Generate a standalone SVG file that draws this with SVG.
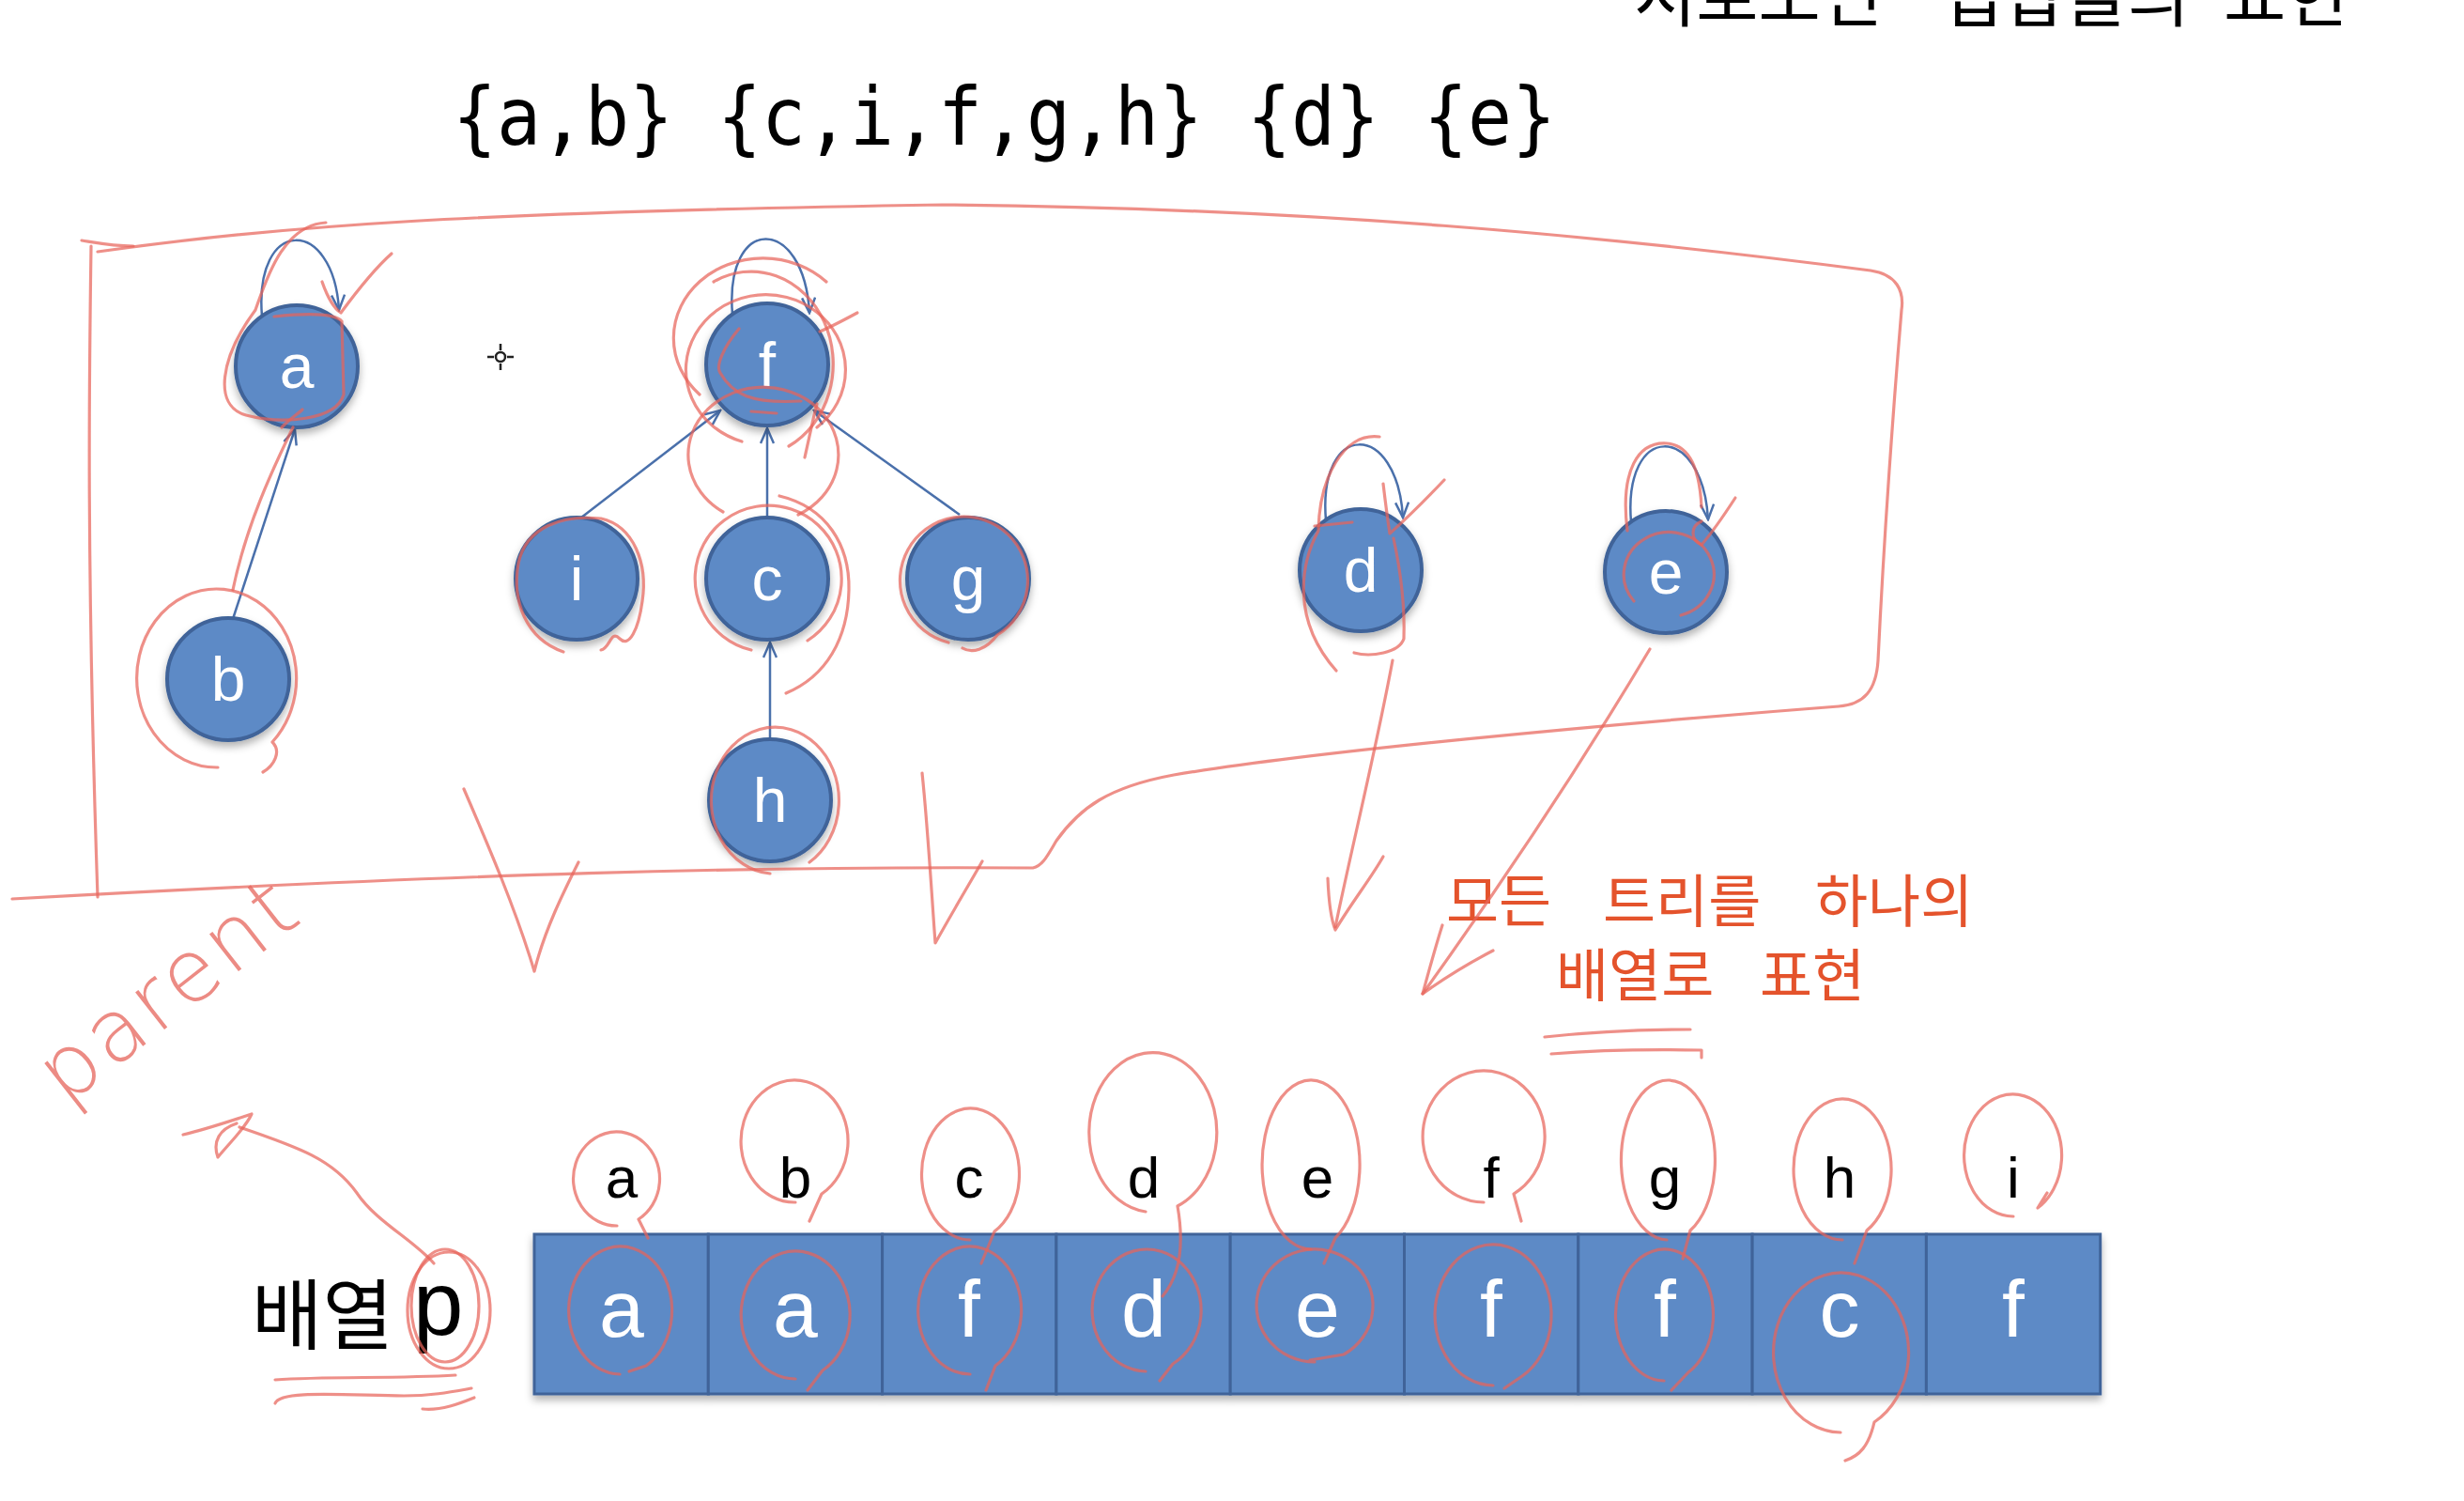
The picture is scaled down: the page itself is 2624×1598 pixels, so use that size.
<svg xmlns="http://www.w3.org/2000/svg" width="2624" height="1598" viewBox="0 0 2624 1598">
<style>
.node{fill:#5d8ac6;stroke:#3f6499;stroke-width:4}
.nl{font-family:"Liberation Sans",Arial,sans-serif;font-size:66px;fill:#ffffff;text-anchor:middle}
.cell{fill:#5d8ac6;stroke:#3f6499;stroke-width:3}
.cl{font-family:"Liberation Sans",Arial,sans-serif;font-size:86px;fill:#ffffff;text-anchor:middle}
.il{font-family:"Liberation Sans",Arial,sans-serif;font-size:62px;fill:#000000;text-anchor:middle}
.edge{fill:none;stroke:#4a70ab;stroke-width:2.5}
.ink{fill:none;stroke:#e8645a;stroke-opacity:0.72;stroke-width:3.2;stroke-linecap:round;stroke-linejoin:round}
.kr{font-family:"Noto Sans CJK KR","Noto Sans",sans-serif}
.red{fill:#e4532c;font-size:61px}
</style>
<defs>
<marker id="arr" viewBox="0 0 20 16" markerWidth="20" markerHeight="16" refX="18" refY="8" orient="auto" markerUnits="userSpaceOnUse">
<path d="M2,1 L18,8 L2,15" fill="none" stroke="#4a70ab" stroke-width="2.5"/>
</marker>
<filter id="sh" x="-20%" y="-20%" width="140%" height="150%">
<feDropShadow dx="0" dy="5" stdDeviation="4" flood-color="#000" flood-opacity="0.3"/>
</filter>
</defs>
<rect width="2624" height="1598" fill="#ffffff"/>

<!-- titles (cut at top edge as in the source) -->
<g id="title">
<text class="kr" x="1740" y="22" font-size="72" fill="#000">서로소인</text>
<text class="kr" x="2067" y="22" font-size="72" fill="#000">집합들의</text>
<text class="kr" x="2368" y="22" font-size="72" fill="#000">표현</text>
</g>
<text id="sets" x="482" y="154" font-family="DejaVu Sans Mono,Liberation Mono,monospace" font-size="86" fill="#000" textLength="1175" lengthAdjust="spacingAndGlyphs">{a,b} {c,i,f,g,h} {d} {e}</text>

<!-- connectors -->
<g id="connectors">
<path class="edge" d="M248,659 L314,457" marker-end="url(#arr)"/>
<path class="edge" d="M619,551 L767,437" marker-end="url(#arr)"/>
<path class="edge" d="M817,551 L817,456" marker-end="url(#arr)"/>
<path class="edge" d="M1022,548 L867,437" marker-end="url(#arr)"/>
<path class="edge" d="M820,787 L820,684" marker-end="url(#arr)"/>
<path class="edge" d="M279,337 C270,230 355,230 361,330" marker-end="url(#arr)"/>
<path class="edge" d="M780,335 C771,228 856,228 862,333" marker-end="url(#arr)"/>
<path class="edge" d="M1412,554 C1403,447 1488,447 1494,551" marker-end="url(#arr)"/>
<path class="edge" d="M1737,556 C1728,449 1813,449 1819,553" marker-end="url(#arr)"/>
</g>

<!-- tree nodes -->
<g id="node-a" filter="url(#sh)"><circle class="node" cx="316" cy="390" r="65"/><text class="nl" x="316" y="413">a</text></g>
<g id="node-b" filter="url(#sh)"><circle class="node" cx="243" cy="723" r="65"/><text class="nl" x="243" y="746">b</text></g>
<g id="node-f" filter="url(#sh)"><circle class="node" cx="817" cy="388" r="65"/><text class="nl" x="817" y="411">f</text></g>
<g id="node-i" filter="url(#sh)"><circle class="node" cx="614" cy="616" r="65"/><text class="nl" x="614" y="639">i</text></g>
<g id="node-c" filter="url(#sh)"><circle class="node" cx="817" cy="616" r="65"/><text class="nl" x="817" y="639">c</text></g>
<g id="node-g" filter="url(#sh)"><circle class="node" cx="1031" cy="616" r="65"/><text class="nl" x="1031" y="639">g</text></g>
<g id="node-h" filter="url(#sh)"><circle class="node" cx="820" cy="852" r="65"/><text class="nl" x="820" y="875">h</text></g>
<g id="node-d" filter="url(#sh)"><circle class="node" cx="1449" cy="607" r="65"/><text class="nl" x="1449" y="630">d</text></g>
<g id="node-e" filter="url(#sh)"><circle class="node" cx="1774" cy="609" r="65"/><text class="nl" x="1774" y="632">e</text></g>

<!-- cursor mark -->
<g id="cursor" stroke="#222" stroke-width="2.5">
<circle cx="533" cy="380" r="5" fill="#fff"/>
<path d="M533,366 L533,373 M533,387 L533,394 M519,380 L526,380 M540,380 L547,380"/>
</g>

<!-- array p -->
<g id="array" filter="url(#sh)">
<rect class="cell" x="569" y="1314" width="185.3" height="170"/>
<rect class="cell" x="754.3" y="1314" width="185.3" height="170"/>
<rect class="cell" x="939.6" y="1314" width="185.3" height="170"/>
<rect class="cell" x="1124.9" y="1314" width="185.3" height="170"/>
<rect class="cell" x="1310.2" y="1314" width="185.3" height="170"/>
<rect class="cell" x="1495.5" y="1314" width="185.3" height="170"/>
<rect class="cell" x="1680.8" y="1314" width="185.3" height="170"/>
<rect class="cell" x="1866.1" y="1314" width="185.3" height="170"/>
<rect class="cell" x="2051.4" y="1314" width="185.3" height="170"/>
</g>
<g id="array-values">
<text class="cl" x="662" y="1423">a</text>
<text class="cl" x="847" y="1423">a</text>
<text class="cl" x="1032" y="1423">f</text>
<text class="cl" x="1218" y="1423">d</text>
<text class="cl" x="1403" y="1423">e</text>
<text class="cl" x="1588" y="1423">f</text>
<text class="cl" x="1773" y="1423">f</text>
<text class="cl" x="1959" y="1423">c</text>
<text class="cl" x="2144" y="1423">f</text>
</g>
<g id="array-index">
<text class="il" x="662" y="1275">a</text>
<text class="il" x="847" y="1275">b</text>
<text class="il" x="1032" y="1275">c</text>
<text class="il" x="1218" y="1275">d</text>
<text class="il" x="1403" y="1275">e</text>
<text class="il" x="1588" y="1275">f</text>
<text class="il" x="1773" y="1275">g</text>
<text class="il" x="1959" y="1275">h</text>
<text class="il" x="2144" y="1275">i</text>
</g>
<g id="array-label">
<text class="kr" x="268" y="1430" font-size="82" fill="#000">배열</text>
<text x="440" y="1421" font-family="Liberation Sans,Arial,sans-serif" font-size="96" fill="#000">p</text>
</g>

<!-- red note -->
<g id="note">
<text class="kr red" x="1540" y="982">모든</text>
<text class="kr red" x="1707" y="982">트리를</text>
<text class="kr red" x="1933" y="982">하나의</text>
<text class="kr red" x="1657" y="1061">배열로</text>
<text class="kr red" x="1874" y="1061">표현</text>
</g>

<!-- handwriting -->
<text id="parent" transform="translate(70,1178) rotate(-38)" font-family="DejaVu Sans,sans-serif" font-weight="200" font-size="92" letter-spacing="4" fill="#ec8b84">parent</text>

<g id="annotations" class="ink">
<!-- enclosure -->
<path d="M87,256 C100,258 120,262 142,262"/>
<path d="M104,268 C300,240 500,226 1004,218 C1400,222 1700,250 1992,288 C2020,292 2028,310 2025,330 C2015,450 2005,600 2000,703 C1998,735 1985,750 1958,752 C1700,772 1400,800 1250,825 C1180,838 1150,860 1125,895 C1115,912 1110,922 1100,924 C800,922 500,930 13,957"/>
<path d="M97,262 C95,400 92,600 104,955"/>
<!-- down arrows -->
<path d="M494,840 C520,900 550,970 569,1034 C580,990 600,950 616,918"/>
<path d="M982,823 C988,880 992,950 996,1004 C1012,975 1030,945 1046,917"/>
<path d="M1483,703 C1465,800 1440,900 1422,987"/>
<path d="M1414,935 C1415,960 1418,980 1422,990 C1440,960 1460,935 1473,912"/>
<path d="M1757,691 C1680,820 1600,940 1515,1058"/>
<path d="M1536,985 C1528,1010 1520,1040 1515,1058 C1540,1040 1565,1025 1590,1012"/>
<!-- parent arrow -->
<path d="M462,1345 C440,1320 400,1300 380,1270 C355,1235 320,1222 255,1200"/>
<path d="M195,1208 C220,1202 250,1192 268,1186 C262,1200 246,1215 232,1232 C226,1215 234,1202 252,1196"/>
<ellipse cx="474" cy="1390" rx="36" ry="60"/>
<ellipse cx="478" cy="1395" rx="44" ry="62"/>
<path d="M293,1469 C350,1465 420,1468 485,1464"/>
<path d="M293,1494 C298,1480 360,1485 430,1486 C460,1486 480,1482 502,1478"/>
<path d="M450,1500 C470,1502 490,1494 505,1488"/>
<!-- underline note -->
<path d="M1645,1104 C1700,1098 1760,1096 1800,1096"/>
<path d="M1652,1122 C1700,1118 1760,1117 1812,1118 L1812,1126"/>
<!-- node a -->
<path d="M347,237 C300,240 283,300 272,330 C235,380 226,432 262,442 C300,452 358,448 366,420 L364,342 C355,332 320,334 292,337"/>
<path d="M343,300 C350,320 358,330 363,333 C380,310 400,285 417,270"/>
<path d="M300,455 C310,445 318,440 322,436"/>
<!-- node b -->
<path d="M248,628 C262,560 290,500 312,455"/>
<path d="M232,817 A85 95 0 1 1 290,790 C300,800 292,815 280,822"/>
<!-- node f -->
<path d="M790,470 A85 80 0 1 1 870,455"/>
<path d="M760,300 A78 88 0 1 1 840,475"/>
<path d="M745,420 A95 85 0 1 1 880,300"/>
<path d="M787,350 C770,370 762,390 767,397 C780,420 800,430 853,427"/>
<path d="M857,487 C862,465 866,445 870,430"/>
<path d="M913,333 C900,340 885,348 873,353"/>
<path d="M800,438 L827,440"/>
<!-- node i -->
<path d="M600,694 C560,680 545,640 552,600 C560,560 600,548 640,552 C675,560 690,600 684,640 C680,670 670,690 660,680 C650,670 650,690 640,692"/>
<!-- node c -->
<path d="M800,692 A78 78 0 1 1 860,682"/>
<path d="M770,545 A80 72 0 1 1 850,548"/>
<path d="M830,528 C880,540 905,580 904,628 C903,680 880,720 837,738"/>
<!-- node g -->
<path d="M1010,684 A68 68 0 1 1 1062,676 C1050,692 1035,696 1025,690"/>
<!-- node h -->
<path d="M820,930 A68 78 0 1 1 862,918"/>
<!-- node d -->
<path d="M1469,465 C1430,460 1405,510 1404,565 C1385,600 1375,660 1423,714"/>
<path d="M1400,560 L1440,556"/>
<path d="M1484,573 C1492,610 1496,650 1495,680 C1490,695 1460,700 1442,695"/>
<path d="M1473,515 C1476,540 1478,555 1480,568 C1500,550 1520,530 1538,511"/>
<!-- node e -->
<path d="M1733,565 C1725,500 1745,470 1775,472 C1800,474 1810,500 1812,540"/>
<path d="M1740,640 A48 45 0 1 1 1790,655"/>
<path d="M1848,530 C1835,550 1825,565 1812,580 C1800,575 1800,560 1812,555"/>
<!-- index loops -->
<path d="M657,1305 A46 50 0 1 1 680,1298 L690,1318"/>
<path d="M847,1280 A57 65 0 1 1 875,1271 L862,1300"/>
<path d="M1033,1320 A52 70 0 1 1 1059,1311 L1045,1345"/>
<path d="M1220,1290 A68 85 0 1 1 1254,1284 C1262,1330 1255,1360 1238,1380"/>
<path d="M1396,1330 A52 90 0 1 1 1422,1318 L1410,1345"/>
<path d="M1580,1280 A65 70 0 1 1 1612,1271 L1620,1300"/>
<path d="M1775,1320 A50 85 0 1 1 1800,1310 L1792,1340"/>
<path d="M1962,1320 A52 75 0 1 1 1988,1310 L1975,1345"/>
<path d="M2144,1295 A52 65 0 1 1 2170,1286 L2180,1270"/>
<!-- cell loops -->
<path d="M660,1463 A55 68 0 1 1 688,1454 L670,1460"/>
<path d="M847,1468 A58 68 0 1 1 876,1459 L860,1480"/>
<path d="M1033,1463 A55 68 0 1 1 1060,1454 L1050,1480"/>
<path d="M1220,1460 A58 65 0 1 1 1249,1452 L1235,1470"/>
<path d="M1400,1450 A62 60 0 1 1 1431,1442 L1395,1448"/>
<path d="M1590,1475 A62 75 0 1 1 1621,1465 L1602,1478"/>
<path d="M1772,1470 A52 70 0 1 1 1798,1461 L1780,1480"/>
<path d="M1960,1525 A72 85 0 1 1 1996,1514 C1990,1540 1980,1550 1965,1555"/>
</g>
</svg>
